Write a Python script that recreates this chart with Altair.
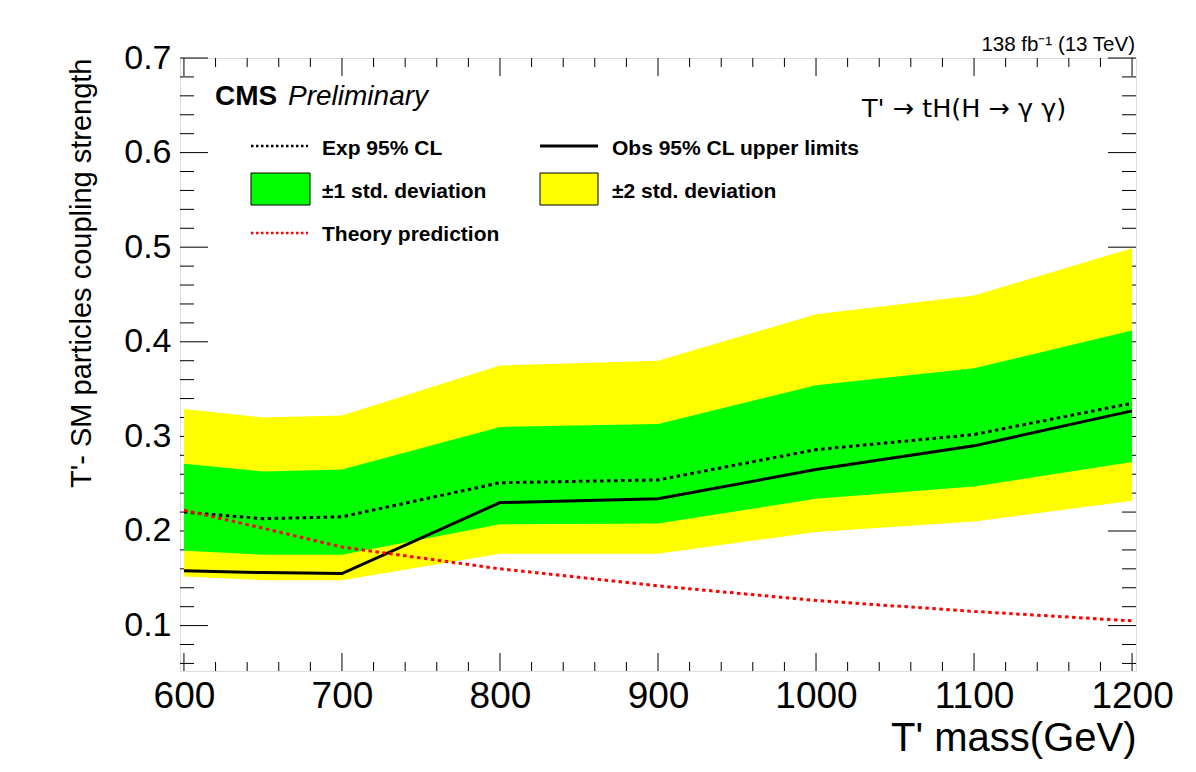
import altair as alt
import pandas as pd

# ---------------- data ----------------
mass = [600, 650, 700, 800, 900, 1000, 1100, 1200]
exp_limit = [0.220, 0.213, 0.215, 0.251, 0.254, 0.286, 0.302, 0.335]
obs_limit = [0.158, 0.156, 0.155, 0.230, 0.234, 0.265, 0.290, 0.327]
one_sigma_lo = [0.179, 0.175, 0.175, 0.207, 0.208, 0.234, 0.247, 0.273]
one_sigma_hi = [0.271, 0.263, 0.265, 0.310, 0.313, 0.354, 0.372, 0.412]
two_sigma_lo = [0.152, 0.148, 0.148, 0.176, 0.176, 0.199, 0.210, 0.232]
two_sigma_hi = [0.329, 0.320, 0.322, 0.375, 0.380, 0.429, 0.449, 0.499]
theory = [0.222, 0.203, 0.183, 0.160, 0.142, 0.1265, 0.115, 0.105]

x_major = [600, 700, 800, 900, 1000, 1100, 1200]
x_minor = [620, 640, 660, 680, 720, 740, 760, 780, 820, 840, 860, 880,
           920, 940, 960, 980, 1020, 1040, 1060, 1080, 1120, 1140, 1160, 1180]
y_major = [0.1, 0.2, 0.3, 0.4, 0.5, 0.6, 0.7]
y_minor = [0.06, 0.08, 0.12, 0.14, 0.16, 0.18, 0.22, 0.24, 0.26, 0.28,
           0.32, 0.34, 0.36, 0.38, 0.42, 0.44, 0.46, 0.48, 0.52, 0.54,
           0.56, 0.58, 0.62, 0.64, 0.66, 0.68]

legend_labels = ["Exp 95% CL", "Obs 95% CL upper limits", "\u00b11 std. deviation",
                 "\u00b12 std. deviation", "Theory prediction"]
x_title = "T' mass(GeV)"
y_title = "T'- SM particles coupling strength"
lumi_text = "138 fb\u207b\u00b9 (13 TeV)"
process_text = "T' \u2192 tH(H \u2192 \u03b3 \u03b3)"

# ---------------- layout ----------------
W, H = 956, 613
FONT = "Liberation Sans"

df = pd.DataFrame({
    "mass": mass, "exp": exp_limit, "obs": obs_limit,
    "g_lo": one_sigma_lo, "g_hi": one_sigma_hi,
    "y_lo": two_sigma_lo, "y_hi": two_sigma_hi, "th": theory,
})

xscale = alt.Scale(domain=[597.5, 1202.5], nice=False, zero=False)
yscale = alt.Scale(domain=[0.052, 0.7], nice=False, zero=False)

xaxis = alt.Axis(values=x_major, format="d", labelFontSize=37, labelFont=FONT,
                 labelColor="black", labelPadding=7, ticks=False, domain=False,
                 grid=False, labelFlush=False, labelOverlap=False,
                 title=x_title, titleFont=FONT, titleFontSize=40,
                 titleFontWeight="normal", titleColor="black",
                 titleX=W, titleY=79, titleAlign="right", titleAnchor="end",
                 titleBaseline="alphabetic")
yaxis = alt.Axis(values=y_major, format=".1f", labelFontSize=34, labelFont=FONT,
                 labelColor="black", labelPadding=9, ticks=False, domain=False,
                 grid=False, labelFlush=False, labelOverlap=False,
                 title=y_title, titleFont=FONT, titleFontSize=29,
                 titleFontWeight="normal", titleColor="black",
                 titleX=-90, titleY=0, titleAlign="right", titleAngle=270,
                 titleBaseline="alphabetic")


def X(f):
    return alt.X(f"{f}:Q", scale=xscale, axis=xaxis)


def Y(f):
    return alt.Y(f"{f}:Q", scale=yscale, axis=yaxis)


base = alt.Chart(df)
layers = []

# ticks (drawn first, bands cover them like in ROOT)
xmaj = pd.DataFrame({"t": x_major})
xmin = pd.DataFrame({"t": x_minor})
ymaj = pd.DataFrame({"t": y_major})
ymin = pd.DataFrame({"t": y_minor})
for d, ln in ((xmaj, 18), (xmin, 9)):
    layers.append(alt.Chart(d).mark_rule(color="black", strokeWidth=1).encode(
        x=X("t"), y=alt.value(H), y2=alt.value(H - ln)))
    layers.append(alt.Chart(d).mark_rule(color="black", strokeWidth=1).encode(
        x=X("t"), y=alt.value(0), y2=alt.value(ln)))
for d, ln in ((ymaj, 28), (ymin, 14)):
    layers.append(alt.Chart(d).mark_rule(color="black", strokeWidth=1).encode(
        y=Y("t"), x=alt.value(0), x2=alt.value(ln)))
    layers.append(alt.Chart(d).mark_rule(color="black", strokeWidth=1).encode(
        y=Y("t"), x=alt.value(W - ln), x2=alt.value(W)))

# bands
layers.append(base.mark_area(color="#ffff00", opacity=1).encode(
    x=X("mass"), y=Y("y_lo"), y2=alt.Y2("y_hi")))
layers.append(base.mark_area(color="#00ff00", opacity=1).encode(
    x=X("mass"), y=Y("g_lo"), y2=alt.Y2("g_hi")))

# lines
layers.append(base.mark_line(color="black", strokeWidth=3, strokeDash=[3.5, 3.5]).encode(
    x=X("mass"), y=Y("exp")))
layers.append(base.mark_line(color="black", strokeWidth=3).encode(
    x=X("mass"), y=Y("obs")))
layers.append(base.mark_line(color="#ff0000", strokeWidth=3, strokeDash=[3.5, 3.5]).encode(
    x=X("mass"), y=Y("th")))

# ---------------- legend & annotations ----------------
one = pd.DataFrame({"a": [0]})


def txt(s, x, y, size, weight="normal", style="normal", align="left", font=FONT):
    return alt.Chart(one).mark_text(font=font, fontSize=size, fontWeight=weight,
                                    fontStyle=style, align=align,
                                    baseline="alphabetic", color="black").encode(
        x=alt.value(x), y=alt.value(y), text=alt.value(s))


def hline(x1, x2, y, color, dash=None, width=2):
    kw = dict(color=color, strokeWidth=width)
    if dash:
        kw["strokeDash"] = dash
    return alt.Chart(one).mark_rule(**kw).encode(
        x=alt.value(x1), x2=alt.value(x2), y=alt.value(y))


def box(x1, x2, y1, y2, color):
    return alt.Chart(one).mark_rect(fill=color, stroke="black", strokeWidth=1).encode(
        x=alt.value(x1), x2=alt.value(x2), y=alt.value(y1), y2=alt.value(y2))


layers += [
    txt("CMS", 35, 47, 28, weight="bold"),
    txt("Preliminary", 108, 47, 28, style="italic"),
    hline(71, 128, 88, "black", dash=[2.5, 2.5], width=2.5),
    txt(legend_labels[0], 142, 97, 21, weight="bold"),
    hline(360, 418, 88, "black", width=3),
    txt(legend_labels[1], 432, 97, 21, weight="bold"),
    box(71, 130, 115, 147, "#00ff00"),
    txt(legend_labels[2], 142, 140, 21, weight="bold"),
    box(360, 418, 115, 147, "#ffff00"),
    txt(legend_labels[3], 432, 140, 21, weight="bold"),
    hline(71, 128, 175, "#ff0000", dash=[2.5, 2.5], width=2.5),
    txt(legend_labels[4], 142, 183, 21, weight="bold"),
    txt(process_text, 682, 59, 25.5, font="DejaVu Sans"),
    txt(lumi_text, 955, -7, 20.5, align="right"),
]

chart = alt.layer(*layers).properties(
    width=W, height=H, autosize="none",
    padding={"left": 172, "top": 50, "right": 50, "bottom": 92},
).configure_view(stroke="black", strokeWidth=1).configure(background="white")

chart.save("out.html", embed_options={"renderer": "svg", "actions": False})
